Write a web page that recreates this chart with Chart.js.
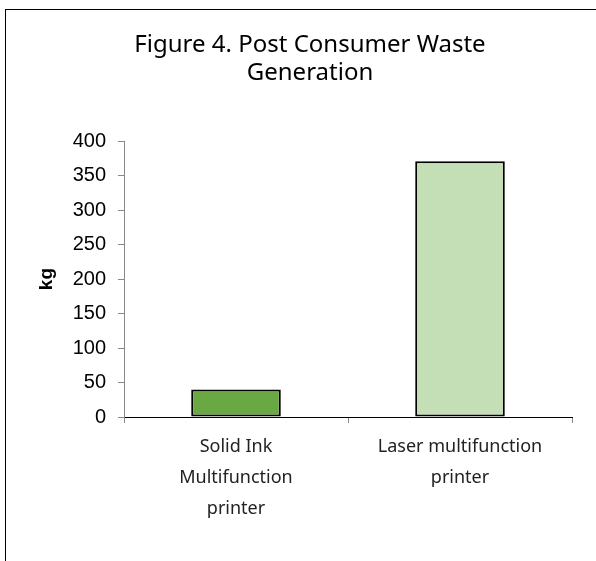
<!DOCTYPE html>
<html>
<head>
<meta charset="utf-8">
<script src="https://cdn.jsdelivr.net/npm/chart.js@4/dist/chart.umd.min.js"></script>
<style>
  html, body { margin: 0; padding: 0; background: #fff; overflow: hidden; }
  #frame {
    position: absolute; left: 5px; top: 9px;
    width: 609px; height: 560px;
    border-left: 1px solid #000; border-top: 1px solid #000;
  }
  #myChart { display: block; }
</style>
</head>
<body>
<div id="frame"><canvas id="myChart" width="608" height="551"></canvas></div>
<script>
// chart data
const categories = [["Solid Ink", "Multifunction", "printer"], ["Laser multifunction", "printer"]];
const wasteKg = [40, 371];
const yMin = 0;
const yMax = 400;
const yStep = 50;

const barColors = ['#6aa843', '#c4deb5'];
const textFont = "'Noto Sans', sans-serif";
const numFont = "'Liberation Sans', Arial, sans-serif";

const data = {
    labels: categories,
    datasets: [{
        label: 'Post Consumer Waste',
        data: wasteKg,
        backgroundColor: barColors,
        borderColor: '#000',
        borderWidth: 2,
        borderSkipped: false,
        categoryPercentage: 1,
        barPercentage: 0.4
    }]
};

const config = {
    type: 'bar',
    data: data,
    options: {
        responsive: false,
        devicePixelRatio: 1,
        animation: false,
        layout: { padding: 0 },
        plugins: {
            legend: { display: false },
            tooltip: { enabled: false },
            title: {
                display: true,
                text: ['Figure 4. Post Consumer Waste', 'Generation'],
                color: '#000',
                font: { family: textFont, size: 24, weight: 'normal', lineHeight: 1.17 },
                padding: { top: 21, bottom: 54 }
            }
        },
        scales: {
            x: {
                afterFit: (scale) => { scale.height = 144; },
                grid: {
                    offset: true,
                    drawOnChartArea: false,
                    drawTicks: true,
                    tickLength: 6,
                    color: '#888'
                },
                border: { display: true, color: '#000', width: 1 },
                ticks: {
                    color: '#222',
                    padding: 8,
                    maxRotation: 0,
                    autoSkip: false,
                    font: { family: textFont, size: 18, lineHeight: 1.72 }
                }
            },
            y: {
                min: yMin,
                max: yMax,
                afterFit: (scale) => { scale.width = 118; },
                grid: {
                    drawOnChartArea: false,
                    drawTicks: true,
                    tickLength: 6,
                    color: '#888'
                },
                border: { display: true, color: '#888', width: 1 },
                ticks: {
                    stepSize: yStep,
                    color: '#000',
                    padding: 12,
                    font: { family: numFont, size: 20 }
                },
                title: {
                    display: true,
                    text: 'kg',
                    color: '#000',
                    padding: { top: 29, bottom: 0 },
                    font: { family: numFont, size: 19, weight: 'bold' }
                }
            },
            // empty right-hand axis, only keeps the gap at the right of the plot
            yRight: {
                type: 'linear',
                position: 'right',
                display: true,
                afterFit: (scale) => { scale.width = 42; },
                grid: { display: false },
                border: { display: false },
                ticks: { display: false }
            }
        }
    }
};

var myChart = new Chart(document.getElementById('myChart'), config);
</script>
</body>
</html>
